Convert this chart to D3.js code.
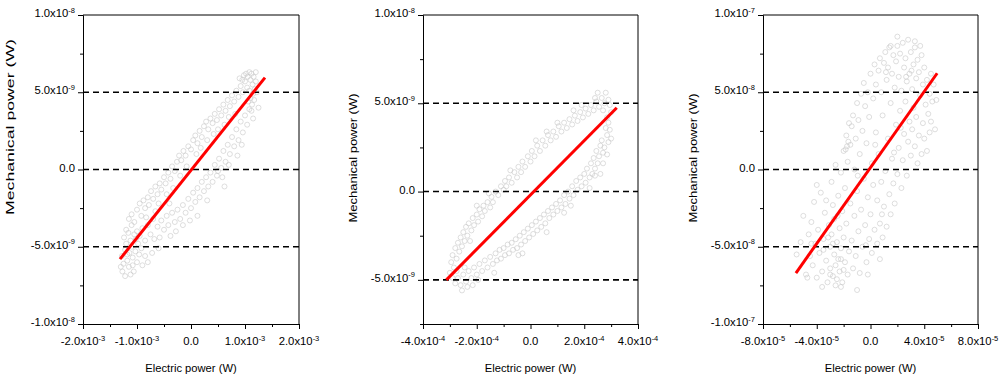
<!DOCTYPE html>
<html><head><meta charset="utf-8">
<script src="https://cdn.jsdelivr.net/npm/d3@7/dist/d3.min.js"></script>
<style>
body{margin:0;background:#fff}
svg{display:block}
text{font-family:"Liberation Sans",Arial,sans-serif;fill:#000}
</style>
</head><body>
<svg id="chart" width="1000" height="378"></svg>
<script>
// ---------- Panel 1 (x in 1e-3 W, y in 1e-9 W) ----------
const p1XUnit = 1e-3, p1YUnit = 1e-9;
const p1Points = [
[-1.28,-5.6],[-1.25,-6.1],[-1.22,-5.2],[-1.2,-4.8],[-1.18,-5.9],[-1.15,-6.3],[-1.14,-5.4],[-1.12,-4.6],[-1.1,-5.0],[-1.08,-5.7],
[-1.06,-6.6],[-1.05,-4.2],[-1.03,-5.3],[-1.0,-6.0],[-0.98,-4.8],[-0.96,-5.5],[-1.24,-4.4],[-1.2,-3.9],[-1.16,-4.1],[-1.1,-3.6],
[-1.3,-6.3],[-1.27,-6.6],[-1.12,-6.8],[-0.9,-6.2],[-0.85,-5.6],[-0.8,-6.0],[-0.92,-5.1],[-1.02,-4.5],[-1.18,-5.5],[-1.08,-6.2],
[-1.15,-3.2],[-1.1,-2.9],[-1.05,-3.4],[-1.0,-2.6],[-0.95,-2.2],[-0.92,-3.0],[-0.88,-2.0],[-0.85,-2.5],[-0.8,-1.8],[-0.78,-2.3],
[-0.74,-1.4],[-0.7,-1.9],[-0.66,-1.1],[-0.62,-1.6],[-0.58,-0.9],[-0.55,-1.3],[-0.5,-0.5],[-0.47,-0.9],[-0.42,-0.2],[-0.38,-0.6],
[-0.35,0.2],[-0.3,-0.1],[-0.26,0.5],[-0.22,0.9],[-0.18,0.6],[-0.14,1.2],[-0.1,0.9],[-0.05,1.5],[0.0,1.3],[0.04,1.9],
[0.08,2.2],[0.12,1.7],[0.16,2.5],[0.2,2.1],[0.24,2.8],[0.28,3.1],[0.32,2.6],[0.36,3.3],[0.4,3.0],[0.44,3.6],
[0.48,3.2],[0.52,3.9],[0.56,3.5],[0.6,4.2],[0.64,3.8],[0.68,4.5],[0.72,4.1],[0.76,4.8],[0.8,4.4],[0.84,5.1],
[0.88,4.7],[0.92,5.4],[0.96,5.0],[1.0,5.7],[1.04,5.3],[-0.6,-2.2],[-0.45,-1.6],[-0.2,-0.4],[0.1,1.0],[0.3,1.9],
[0.5,2.6],[0.7,3.4],[1.05,6.0],[1.08,6.3],[1.1,5.8],[1.12,6.2],[1.14,5.5],[1.15,4.9],[1.16,6.0],[1.18,5.2],
[1.1,4.6],[1.2,5.7],[1.02,6.2],[0.98,6.1],[1.13,4.2],[1.17,4.5],[1.22,5.0],[1.25,4.0],[1.08,5.1],[0.95,5.8],
[1.12,3.8],[1.2,6.3],[0.9,5.9],[1.06,4.4],[-1.0,-4.0],[-0.95,-4.3],[-0.9,-3.8],[-0.85,-4.6],[-0.8,-3.6],[-0.75,-4.2],
[-0.7,-3.2],[-0.68,-4.5],[-0.62,-3.7],[-0.58,-4.4],[-0.55,-3.3],[-0.5,-3.9],[-0.45,-3.0],[-0.42,-3.6],[-0.38,-4.3],[-0.35,-2.8],
[-0.3,-3.4],[-0.25,-2.6],[-0.2,-3.2],[-0.15,-2.3],[-0.1,-2.8],[-0.05,-1.9],[0.0,-2.5],[0.04,-1.5],[0.08,-2.1],[0.12,-1.2],
[0.16,-1.8],[0.2,-0.8],[0.24,-1.4],[0.28,-0.5],[0.32,-1.1],[0.36,-0.2],[0.4,-0.8],[0.44,0.3],[0.48,-0.4],[0.52,0.7],
[0.56,0.1],[0.6,1.2],[0.64,0.5],[0.68,1.6],[0.72,1.0],[0.76,2.1],[0.8,1.5],[0.84,2.6],[0.88,1.9],[0.92,3.1],
[0.96,2.4],[1.0,3.5],[1.04,2.9],[1.08,3.9],[0.62,-1.1],[0.5,-0.1],[-0.28,-4.0],[-0.6,-5.1],[-0.72,-5.4],[0.3,-2.0],
[0.12,-3.0],[-0.15,-3.6],[-0.83,-3.1],[-0.66,-2.7],[-0.33,-1.2],[-0.08,0.2],[0.18,1.4],[0.42,2.3],[0.62,2.9],[0.82,3.6],
[0.86,0.9],[0.7,0.3],[0.58,-0.5],[0.94,1.6],[-0.02,-3.3],[-0.4,-2.2],[1.15,3.3],[-1.22,-6.9]
];
const p1Fit = [[-1.315,-5.8],[1.37,5.95]];
const p1XDomain = [-2e-3, 2e-3], p1YDomain = [-1e-8, 1e-8];
const p1XMajor = [-2e-3,-1e-3,0,1e-3,2e-3], p1XMinor = [-1.5e-3,-0.5e-3,0.5e-3,1.5e-3];
const p1XLabels = [["-2.0x10","-3"],["-1.0x10","-3"],["0.0",""],["1.0x10","-3"],["2.0x10","-3"]];
const p1YMajor = [-1e-8,-5e-9,0,5e-9,1e-8], p1YMinor = [-7.5e-9,-2.5e-9,2.5e-9,7.5e-9];
const p1YLabels = [["-1.0x10","-8"],["-5.0x10","-9"],["0.0",""],["5.0x10","-9"],["1.0x10","-8"]];
const p1Dashes = [-5e-9, 0, 5e-9];

// ---------- Panel 2 (x in 1e-4 W, y in 1e-9 W) ----------
const p2XUnit = 1e-4, p2YUnit = 1e-9;
const p2Points = [
[-3.0,-4.6],[-2.95,-4.0],[-2.9,-3.6],[-2.85,-4.3],[-2.8,-3.2],[-2.75,-3.8],[-2.7,-2.9],[-2.65,-3.4],[-2.6,-2.6],[-2.55,-3.1],
[-2.5,-2.3],[-2.45,-2.8],[-2.4,-2.0],[-2.35,-2.5],[-2.3,-1.8],[-2.2,-2.2],[-2.15,-1.5],[-2.1,-1.9],[-2.0,-1.3],[-1.95,-1.7],
[-1.9,-1.0],[-1.8,-1.4],[-1.75,-0.8],[-1.7,-1.1],[-1.6,-0.6],[-1.5,-0.9],[-1.45,-0.3],[-1.4,-0.6],[-1.3,0.0],[-1.2,-0.2],
[-1.1,0.3],[-1.0,0.1],[-0.95,0.6],[-0.9,0.3],[-0.8,0.8],[-0.7,0.5],[-0.6,1.1],[-0.5,0.8],[-0.45,1.4],[-0.35,1.1],
[-0.3,1.7],[-0.2,1.4],[-0.1,2.0],[0.0,1.7],[0.05,2.3],[0.15,2.0],[0.25,2.6],[0.35,2.3],[0.45,2.9],[0.55,2.6],
[0.65,3.2],[0.75,2.9],[0.85,3.4],[0.95,3.1],[1.05,3.7],[1.15,3.4],[1.25,3.9],[1.35,3.6],[1.45,4.1],[1.55,3.8],
[1.65,4.3],[1.75,4.0],[1.85,4.5],[1.95,4.2],[2.05,4.7],[2.15,4.4],[2.25,4.9],[2.35,4.6],[2.45,5.1],[2.55,4.8],
[2.65,5.3],[2.75,5.0],[2.8,5.6],[2.9,5.2],[2.5,5.6],[2.7,4.6],[2.95,4.9],[3.0,4.5],[2.85,4.2],[2.4,5.3],
[2.9,3.9],[2.95,3.5],[2.85,3.2],[2.9,2.8],[2.8,3.6],[3.0,3.0],[2.75,2.5],[2.85,2.1],[2.65,2.9],[2.7,2.2],
[2.6,2.6],[2.55,2.0],[2.5,1.6],[2.45,2.3],[2.4,1.3],[2.35,1.9],[2.3,1.0],[2.25,1.6],[2.2,0.8],[2.1,1.3],
[2.05,0.5],[2.0,1.0],[1.9,0.3],[1.85,0.8],[1.75,0.1],[1.7,0.6],[1.6,-0.2],[1.55,0.3],[1.45,-0.4],[1.4,0.0],
[1.3,-0.7],[1.25,-0.2],[1.15,-0.9],[1.1,-0.5],[1.0,-1.1],[0.95,-0.7],[0.85,-1.3],[0.8,-0.9],[0.7,-1.5],[0.65,-1.1],
[0.55,-1.8],[0.5,-1.3],[0.4,-2.0],[0.35,-1.5],[0.25,-2.2],[0.2,-1.7],[0.1,-2.4],[0.05,-1.9],[-0.05,-2.6],[-0.1,-2.1],
[-0.2,-2.8],[-0.25,-2.3],[-0.35,-3.0],[-0.4,-2.5],[-0.5,-3.2],[-0.55,-2.7],[-0.65,-3.3],[-0.7,-2.9],[-0.8,-3.5],[-0.85,-3.0],
[-0.95,-3.6],[-1.0,-3.2],[-1.1,-3.8],[-1.15,-3.3],[-1.25,-3.9],[-1.3,-3.5],[-1.4,-4.1],[-1.5,-3.7],[-1.6,-4.3],[-1.7,-3.9],
[-1.8,-4.5],[-1.9,-4.1],[-2.0,-4.7],[-2.1,-4.3],[-2.2,-4.9],[-2.3,-4.5],[-2.4,-5.1],[-2.5,-4.7],[-2.6,-5.3],[-2.7,-4.9],
[-2.8,-5.2],[-2.9,-4.9],[-2.35,-5.4],[-2.55,-5.6],[-2.15,-5.3],[-2.45,-4.3],[-2.75,-4.5],[-1.95,-5.0],[-0.45,-3.6],[1.25,-1.2],
[2.4,0.9],[2.7,1.6],[1.9,4.9],[0.6,3.4],[-2.0,-0.8],[-1.55,-0.1],[-0.75,1.2],[0.2,2.9],[1.0,3.9],[1.6,4.6],
[-2.25,-2.8],[-1.35,-4.6],[-0.3,-3.5],[0.6,-2.3],[1.5,-0.8],[2.2,0.2],[2.6,1.0]
];
const p2Fit = [[-3.13,-5.0],[3.21,4.75]];
const p2XDomain = [-4e-4, 4e-4], p2YDomain = [-7.5e-9, 1e-8];
const p2XMajor = [-4e-4,-2e-4,0,2e-4,4e-4], p2XMinor = [-3e-4,-1e-4,1e-4,3e-4];
const p2XLabels = [["-4.0x10","-4"],["-2.0x10","-4"],["0.0",""],["2.0x10","-4"],["4.0x10","-4"]];
const p2YMajor = [-5e-9,0,5e-9,1e-8], p2YMinor = [-7.5e-9,-2.5e-9,2.5e-9,7.5e-9];
const p2YLabels = [["-5.0x10","-9"],["0.0",""],["5.0x10","-9"],["1.0x10","-8"]];
const p2Dashes = [-5e-9, 0, 5e-9];

// ---------- Panel 3 (x in 1e-5 W, y in 1e-8 W) ----------
const p3XUnit = 1e-5, p3YUnit = 1e-8;
const p3Points = [
[-5.5,-5.5],[-5.2,-4.7],[-5.0,-3.0],[-4.8,-6.8],[-4.6,-4.2],[-4.5,-5.6],[-4.4,-3.4],[-4.3,-6.2],[-4.2,-2.1],[-4.1,-4.8],
[-4.0,-7.0],[-3.9,-3.9],[-3.8,-5.4],[-3.7,-1.5],[-3.6,-6.6],[-3.5,-4.5],[-3.4,-2.8],[-3.3,-5.9],[-3.2,-7.3],[-3.1,-3.6],
[-3.0,-5.0],[-3.0,-6.4],[-2.9,-0.8],[-2.9,-4.2],[-2.8,-6.9],[-2.8,-2.3],[-2.7,-5.5],[-2.7,-3.2],[-2.6,-6.2],[-2.6,0.3],
[-2.5,-4.7],[-2.5,-7.1],[-2.4,-1.7],[-2.4,-5.8],[-2.3,-3.8],[-2.3,-6.6],[-2.2,-0.2],[-2.2,-5.1],[-2.1,-2.7],[-2.1,-7.3],
[-2.0,1.2],[-2.0,-4.4],[-1.9,-6.0],[-1.9,-1.2],[-1.8,2.2],[-1.8,-3.5],[-1.7,-6.8],[-1.7,0.5],[-1.6,-5.3],[-1.6,3.0],
[-1.5,1.6],[-1.5,-2.2],[-1.4,-4.6],[-1.4,2.8],[-1.3,-6.4],[-1.3,3.5],[-1.2,0.0],[-1.2,-3.0],[-1.1,2.0],[-1.1,-5.6],
[-1.0,4.3],[-1.0,-1.4],[-0.9,-4.0],[-0.9,3.2],[-0.8,-6.7],[-0.8,1.0],[-0.7,4.9],[-0.7,-2.6],[-0.6,-5.0],[-0.6,2.5],
[-0.5,5.6],[-0.5,-0.6],[-0.4,-3.6],[-0.4,4.1],[-0.3,-6.0],[-0.3,1.7],[-0.2,5.0],[-0.2,-1.8],[-0.1,-4.5],[-0.1,3.4],
[0.0,6.2],[0.0,-2.9],[0.1,-5.4],[0.1,0.4],[0.2,4.6],[0.2,-1.0],[0.3,6.8],[0.3,-3.9],[0.4,2.4],[0.4,5.5],
[0.5,-4.8],[0.5,-2.0],[0.6,6.4],[0.6,1.0],[0.7,-3.5],[0.7,7.2],[0.8,-0.8],[0.8,5.0],[0.9,-4.4],[0.9,3.5],
[1.0,6.9],[1.0,-2.4],[1.1,7.6],[1.1,-0.1],[1.2,5.8],[1.2,-3.7],[1.3,2.0],[1.3,6.6],[1.4,-1.6],[1.4,7.9],
[1.5,4.3],[1.5,-2.9],[1.6,6.2],[1.6,0.7],[1.7,7.4],[1.7,-0.9],[1.8,5.3],[1.8,-2.2],[1.9,7.0],[1.9,2.9],
[2.0,8.0],[2.0,-0.3],[2.1,6.0],[2.1,1.4],[2.2,7.5],[2.2,3.8],[2.3,5.1],[2.3,-1.2],[2.4,8.2],[2.4,0.6],
[2.5,6.6],[2.5,2.3],[2.6,7.2],[2.6,4.4],[2.7,5.7],[2.7,-0.4],[2.8,8.4],[2.8,1.8],[2.9,6.2],[2.9,3.1],
[3.0,7.6],[3.0,0.9],[3.1,5.2],[3.1,2.6],[3.2,6.8],[3.2,4.0],[3.3,7.9],[3.3,1.5],[3.4,5.9],[3.4,3.4],
[3.5,7.1],[3.5,0.4],[3.6,6.3],[3.6,2.2],[3.7,4.8],[3.8,7.4],[3.8,1.0],[3.9,5.5],[3.9,3.0],[4.0,6.6],
[4.0,2.0],[4.1,4.2],[4.2,5.8],[4.2,1.2],[4.3,3.6],[4.4,4.9],[4.4,2.4],[4.5,6.2],[4.5,3.1],[4.6,4.4],
[4.7,5.5],[4.8,2.6],[4.9,4.5],[3.3,8.3],[2.0,8.6],[1.5,8.0],[3.7,8.0],[-3.6,-7.6],[-4.7,-7.0],[-3.3,-2.0],
[-2.2,-7.6],[-0.2,-6.8],[-1.0,-7.8],[0.7,-5.8],[-4.0,-1.0],[-4.4,-4.8],[-3.0,-6.8],[-2.6,-7.5],[-2.0,-6.5],[-3.5,-5.2],
[-2.8,-4.8],[-2.2,-5.8],[-1.75,1.5],[-1.65,1.8],[-1.85,1.3],[1.15,6.3],[2.65,6.0],[3.05,6.4],[-0.35,-4.9],[0.85,-2.9],
[1.75,1.1],[2.25,2.7],[-3.15,-4.4],[-2.45,-3.0],[-0.95,-0.4],[0.35,1.6]
];
const p3Fit = [[-5.55,-6.7],[4.96,6.23]];
const p3XDomain = [-8e-5, 8e-5], p3YDomain = [-1e-7, 1e-7];
const p3XMajor = [-8e-5,-4e-5,0,4e-5,8e-5], p3XMinor = [-6e-5,-2e-5,2e-5,6e-5];
const p3XLabels = [["-8.0x10","-5"],["-4.0x10","-5"],["0.0",""],["4.0x10","-5"],["8.0x10","-5"]];
const p3YMajor = [-1e-7,-5e-8,0,5e-8,1e-7], p3YMinor = [-7.5e-8,-2.5e-8,2.5e-8,7.5e-8];
const p3YLabels = [["-1.0x10","-7"],["-5.0x10","-8"],["0.0",""],["5.0x10","-8"],["1.0x10","-7"]];
const p3Dashes = [-5e-8, 0, 5e-8];

const xTitle = "Electric power (W)";
const yTitle = "Mechanical power (W)";

// ---------- layout ----------
const panels = [
  {pts:p1Points, xu:p1XUnit, yu:p1YUnit, fit:p1Fit, xd:p1XDomain, yd:p1YDomain, xMaj:p1XMajor, xMin:p1XMinor, xLab:p1XLabels,
   yMaj:p1YMajor, yMin:p1YMinor, yLab:p1YLabels, dashes:p1Dashes, left:83, right:299, top:15, bottom:324, yTitleX:14, yTitleY:127, yTitleLen:176},
  {pts:p2Points, xu:p2XUnit, yu:p2YUnit, fit:p2Fit, xd:p2XDomain, yd:p2YDomain, xMaj:p2XMajor, xMin:p2XMinor, xLab:p2XLabels,
   yMaj:p2YMajor, yMin:p2YMinor, yLab:p2YLabels, dashes:p2Dashes, left:423, right:638, top:15, bottom:324, yTitleX:357, yTitleY:158, yTitleLen:129},
  {pts:p3Points, xu:p3XUnit, yu:p3YUnit, fit:p3Fit, xd:p3XDomain, yd:p3YDomain, xMaj:p3XMajor, xMin:p3XMinor, xLab:p3XLabels,
   yMaj:p3YMajor, yMin:p3YMinor, yLab:p3YLabels, dashes:p3Dashes, left:763, right:978, top:15, bottom:324, yTitleX:697, yTitleY:158, yTitleLen:129}
];

const svg = d3.select("#chart");

function labelText(sel, parts){
  sel.append("tspan").text(parts[0]);
  if(parts[1]) sel.append("tspan").attr("dy",-4.5).attr("font-size",7.5).text(parts[1]);
}

panels.forEach(p=>{
  const x = d3.scaleLinear().domain(p.xd).range([p.left, p.right]);
  const y = d3.scaleLinear().domain(p.yd).range([p.bottom, p.top]);
  const g = svg.append("g");

  // scatter
  g.append("g").selectAll("circle").data(p.pts).join("circle")
    .attr("cx", d=>x(d[0]*p.xu)).attr("cy", d=>y(d[1]*p.yu)).attr("r", 2.5)
    .attr("fill","none").attr("stroke","#c8c8c8").attr("stroke-width",0.6);

  // dashed reference lines
  g.append("g").selectAll("line").data(p.dashes).join("line")
    .attr("x1", p.left).attr("x2", p.right)
    .attr("y1", d=>y(d)).attr("y2", d=>y(d))
    .attr("stroke","#000").attr("stroke-width",1.6).attr("stroke-dasharray","6,4");

  // fit line
  g.append("line")
    .attr("x1", x(p.fit[0][0]*p.xu)).attr("y1", y(p.fit[0][1]*p.yu))
    .attr("x2", x(p.fit[1][0]*p.xu)).attr("y2", y(p.fit[1][1]*p.yu))
    .attr("stroke","#ff0000").attr("stroke-width",3);

  // frame (top & right)
  g.append("path")
    .attr("d", `M${p.left},${p.top}H${p.right}V${p.bottom}`)
    .attr("fill","none").attr("stroke","#000").attr("stroke-width",1);

  // axes
  const xb = g.append("g").attr("transform",`translate(0,${p.bottom})`);
  xb.call(d3.axisBottom(x).tickValues(p.xMin).tickSize(3).tickSizeOuter(0).tickFormat(""));
  xb.append("g").call(d3.axisBottom(x).tickValues(p.xMaj).tickSize(5).tickSizeOuter(0).tickFormat(""));
  const yl = g.append("g").attr("transform",`translate(${p.left},0)`);
  yl.call(d3.axisLeft(y).tickValues(p.yMin).tickSize(3).tickSizeOuter(0).tickFormat(""));
  yl.append("g").call(d3.axisLeft(y).tickValues(p.yMaj).tickSize(5).tickSizeOuter(0).tickFormat(""));
  g.selectAll(".domain, .tick line").attr("stroke","#000").attr("stroke-width",1);

  // tick labels
  p.xMaj.forEach((v,i)=>{
    const t = g.append("text").attr("x", x(v)).attr("y", p.bottom+21)
      .attr("text-anchor","middle").attr("font-size",11.3);
    labelText(t, p.xLab[i]);
  });
  p.yMaj.forEach((v,i)=>{
    const t = g.append("text").attr("x", p.left-8).attr("y", y(v)+2)
      .attr("text-anchor","end").attr("font-size",11.3);
    labelText(t, p.yLab[i]);
  });

  // axis titles
  g.append("text").attr("x",(p.left+p.right)/2).attr("y",372)
    .attr("text-anchor","middle").attr("font-size",11.2).text(xTitle);
  g.append("text").attr("transform",`translate(${p.yTitleX},${p.yTitleY}) rotate(-90)`)
    .attr("text-anchor","middle").attr("font-size",11.5)
    .attr("textLength",p.yTitleLen).attr("lengthAdjust","spacingAndGlyphs").text(yTitle);
});
</script>
</body></html>
